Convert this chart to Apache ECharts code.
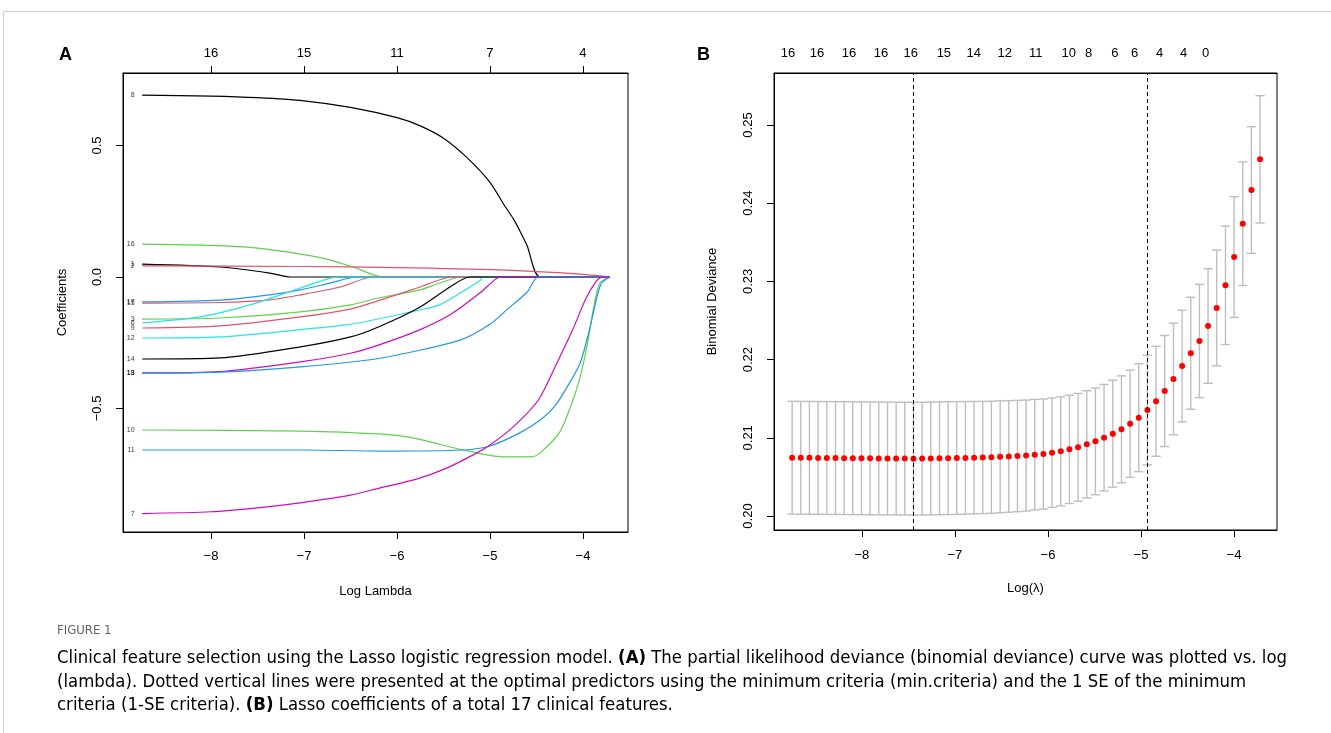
<!DOCTYPE html>
<html>
<head>
<meta charset="utf-8">
<script src="https://cdn.jsdelivr.net/npm/echarts@6.0.0/dist/echarts.min.js"></script>
<style>
  html, body { margin: 0; padding: 0; background: #fff; }
  #chart { width: 1331px; height: 733px; }
</style>
</head>
<body>
<div id="chart"></div>
<script>
// ---- panel A: lasso coefficient paths, [log lambda, coefficient] ----
const path8  = [[-8.74,0.692],[-8,0.688],[-7.5,0.682],[-7,0.670],[-6.5,0.645],[-6,0.606],[-5.75,0.575],[-5.5,0.528],[-5.25,0.455],[-5,0.36],[-4.85,0.275],[-4.75,0.222],[-4.68,0.176],[-4.6,0.118],[-4.46,0],[-3.71,0]];
const path16 = [[-8.74,0.125],[-8,0.12],[-7.5,0.11],[-7.1,0.091],[-6.8,0.072],[-6.47,0.038],[-6.15,0],[-3.71,0]];
const path1  = [[-8.74,0.049],[-7.9,0.038],[-7.37,0.015],[-7.15,0],[-3.71,0]];
const path2  = [[-8.74,0.042],[-7,0.04],[-6,0.036],[-4.9,0.027],[-4.03,0.011],[-3.71,0]];
const path17 = [[-8.74,-0.095],[-7.9,-0.088],[-7.37,-0.068],[-7.04,-0.049],[-6.72,-0.023],[-6.43,0],[-3.71,0]];
const path15 = [[-8.74,-0.099],[-7.9,-0.097],[-7.37,-0.087],[-7.04,-0.068],[-6.61,-0.038],[-6.26,0],[-3.71,0]];
const path3  = [[-8.74,-0.16],[-7.9,-0.156],[-7.04,-0.133],[-6.5,-0.106],[-6.2,-0.08],[-5.75,-0.049],[-5.54,-0.023],[-5.3,0],[-3.71,0]];
const path6  = [[-8.74,-0.175],[-8.12,-0.152],[-7.58,-0.106],[-7.04,-0.042],[-6.72,-0.004],[-6.61,0],[-3.71,0]];
const path9  = [[-8.74,-0.194],[-7.9,-0.186],[-7.04,-0.152],[-6.5,-0.122],[-6.2,-0.09],[-5.75,-0.038],[-5.41,0],[-3.71,0]];
const path12 = [[-8.74,-0.232],[-7.9,-0.228],[-7.04,-0.2],[-6.5,-0.18],[-6.15,-0.156],[-5.75,-0.125],[-5.54,-0.106],[-5.32,-0.061],[-5.1,-0.011],[-5.08,0],[-3.71,0]];
const path14 = [[-8.74,-0.312],[-7.9,-0.308],[-7.04,-0.266],[-6.5,-0.228],[-6.2,-0.19],[-5.75,-0.114],[-5.43,-0.038],[-5.22,0],[-3.71,0]];
const path13 = [[-8.74,-0.365],[-7.9,-0.36],[-7.04,-0.323],[-6.5,-0.29],[-6.2,-0.259],[-5.75,-0.2],[-5.43,-0.144],[-5.11,-0.061],[-4.95,-0.011],[-4.89,0],[-3.71,0]];
const path18 = [[-8.74,-0.366],[-7.9,-0.362],[-7.04,-0.342],[-6.2,-0.31],[-5.32,-0.24],[-5.0,-0.18],[-4.82,-0.125],[-4.6,-0.057],[-4.48,0],[-3.71,0]];
const path10 = [[-8.74,-0.582],[-7.04,-0.586],[-6.2,-0.597],[-5.83,-0.612],[-5.29,-0.658],[-4.86,-0.684],[-4.55,-0.684],[-4.46,-0.669],[-4.25,-0.59],[-4.12,-0.48],[-4.03,-0.38],[-3.95,-0.25],[-3.89,-0.125],[-3.82,-0.023],[-3.71,0]];
const path11 = [[-8.74,-0.658],[-7,-0.658],[-6.18,-0.662],[-5.29,-0.658],[-5.0,-0.643],[-4.68,-0.593],[-4.46,-0.544],[-4.3,-0.49],[-4.17,-0.418],[-4.03,-0.327],[-3.93,-0.2],[-3.85,-0.076],[-3.8,-0.023],[-3.71,0]];
const path7  = [[-8.74,-0.90],[-8,-0.893],[-7.5,-0.878],[-7,-0.857],[-6.5,-0.83],[-6.18,-0.802],[-5.8,-0.77],[-5.46,-0.726],[-5.14,-0.669],[-5.0,-0.639],[-4.75,-0.570],[-4.48,-0.468],[-4.28,-0.327],[-4.11,-0.2],[-3.96,-0.076],[-3.82,-0.004],[-3.71,0]];

const varNames  = ['8','16','1','2','17','15','3','6','9','12','14','13','18','10','11','7'];
const varPaths  = [path8,path16,path1,path2,path17,path15,path3,path6,path9,path12,path14,path13,path18,path10,path11,path7];
const varColors = ['#000000','#61D04F','#000000','#DF536B','#2297E6','#DF536B','#61D04F','#28E2E5','#DF536B','#28E2E5','#000000','#CD0BBC','#2297E6','#61D04F','#2297E6','#CD0BBC'];

const bottomTicksA = [-8, -7, -6, -5, -4];
const topLabelsA   = ['16', '15', '11', '7', '4'];
const yTicksA      = [-0.5, 0, 0.5];

// ---- panel B: cross-validated binomial deviance ----
const logLambdaB = [-8.750,-8.657,-8.564,-8.471,-8.377,-8.284,-8.191,-8.098,-8.005,-7.912,
  -7.819,-7.725,-7.632,-7.539,-7.446,-7.353,-7.260,-7.166,-7.073,-6.980,
  -6.887,-6.794,-6.701,-6.608,-6.514,-6.421,-6.328,-6.235,-6.142,-6.049,
  -5.956,-5.862,-5.769,-5.676,-5.583,-5.490,-5.397,-5.303,-5.210,-5.117,
  -5.024,-4.931,-4.838,-4.745,-4.651,-4.558,-4.465,-4.372,-4.279,-4.186,
  -4.092,-3.999,-3.906,-3.813,-3.720];
const cvMean = [0.20745,0.20744,0.20744,0.20743,0.20742,0.20741,0.20740,0.20739,0.20738,0.20737,
  0.20736,0.20735,0.20735,0.20734,0.20733,0.20734,0.20736,0.20738,0.20740,0.20742,
  0.20743,0.20746,0.20748,0.20751,0.20757,0.20762,0.20767,0.20773,0.20784,0.20793,
  0.20810,0.20827,0.20853,0.20878,0.20916,0.20955,0.21002,0.21053,0.21108,0.21180,
  0.21257,0.21355,0.21467,0.21598,0.21752,0.21918,0.22081,0.22238,0.22430,0.22660,
  0.22950,0.23312,0.23738,0.24169,0.24561];
const cvSe = [0.00721,0.00721,0.00721,0.00721,0.00721,0.00721,0.00721,0.00721,0.00721,0.00721,
  0.00721,0.00721,0.00721,0.00721,0.00721,0.00721,0.00721,0.00721,0.00721,0.00721,
  0.00720,0.00719,0.00718,0.00717,0.00716,0.00714,0.00712,0.00710,0.00707,0.00704,
  0.00700,0.00697,0.00693,0.00690,0.00686,0.00683,0.00680,0.00684,0.00684,0.00686,
  0.00690,0.00701,0.00703,0.00710,0.00714,0.00714,0.00716,0.00725,0.00733,0.00740,
  0.00757,0.00772,0.00790,0.00810,0.00814];
const lambdaMin = -7.446;
const lambda1se = -4.931;

const bottomTicksB = [-8, -7, -6, -5, -4];
const topPosB    = [-8.795,-8.483,-8.140,-7.796,-7.474,-7.119,-6.797,-6.464,-6.131,-5.777,-5.562,-5.282,-5.068,-4.799,-4.541,-4.305];
const topLabelsB = ['16','16','16','16','16','15','14','12','11','10','8','6','6','4','4','0'];
const yTicksB    = [0.20, 0.21, 0.22, 0.23, 0.24, 0.25];

const FONT = "'Liberation Sans', Arial, sans-serif";
const minus = v => String(v).replace('-', '\u2212');

function nearestLabel(v, pos, labels) {
  let best = 0;
  for (let i = 1; i < pos.length; i++) {
    if (Math.abs(pos[i] - v) < Math.abs(pos[best] - v)) best = i;
  }
  return labels[best];
}

// axis lines sit on the box edges, ticks point outwards as in base R
const boxLine = { show: true, onZero: false, lineStyle: { color: '#000', width: 1 } };
const tickStyle = { show: true, inside: false, length: 7, lineStyle: { color: '#000', width: 1 } };
const labelBase = { color: '#000', fontSize: 13, fontFamily: FONT };

const chart = echarts.init(document.getElementById('chart'));

const seriesA = varPaths.map((p, i) => ({
  name: 'V' + varNames[i],
  type: 'line',
  xAxisIndex: 0, yAxisIndex: 0,
  data: p,
  showSymbol: false,
  smooth: 0.25,
  lineStyle: { color: varColors[i], width: 1.2 },
  silent: true,
  z: 3
}));

const startLabels = {
  type: 'scatter',
  xAxisIndex: 0, yAxisIndex: 0,
  data: varPaths.map((p, i) => [p[0][0], p[0][1], varNames[i]]),
  symbolSize: 1,
  itemStyle: { color: 'rgba(0,0,0,0)' },
  label: {
    show: true, position: 'left', distance: 7,
    formatter: d => d.value[2],
    fontSize: 7, color: '#000', fontFamily: FONT
  },
  silent: true
};

const capW = 0.0503;
const errBars = {
  type: 'custom',
  xAxisIndex: 2, yAxisIndex: 1,
  data: logLambdaB.map((x, i) => [x, cvMean[i] - cvSe[i], cvMean[i] + cvSe[i]]),
  encode: { x: 0, y: [1, 2] },
  renderItem: function (params, api) {
    const x = api.value(0);
    const top = api.coord([x, api.value(2)]);
    const bot = api.coord([x, api.value(1)]);
    const half = api.coord([x + capW, api.value(2)])[0] - top[0];
    const st = { stroke: '#BEBEBE', lineWidth: 1.4 };
    return {
      type: 'group',
      children: [
        { type: 'line', shape: { x1: top[0], y1: top[1], x2: bot[0], y2: bot[1] }, style: st },
        { type: 'line', shape: { x1: top[0] - half, y1: top[1], x2: top[0] + half, y2: top[1] }, style: st },
        { type: 'line', shape: { x1: bot[0] - half, y1: bot[1], x2: bot[0] + half, y2: bot[1] }, style: st }
      ]
    };
  },
  silent: true,
  z: 2
};

const cvPoints = {
  type: 'scatter',
  xAxisIndex: 2, yAxisIndex: 1,
  data: logLambdaB.map((x, i) => [x, cvMean[i]]),
  symbolSize: 6,
  itemStyle: { color: '#FF0000', opacity: 1 },
  silent: true,
  z: 4,
  markLine: {
    silent: true,
    symbol: 'none',
    label: { show: false },
    lineStyle: { color: '#000', type: [4, 3], width: 1 },
    data: [{ xAxis: lambdaMin }, { xAxis: lambda1se }]
  }
};

const caption1 = '{n|Clinical feature selection using the Lasso logistic regression model. }{b|(A)}{n| The partial likelihood deviance (binomial deviance) curve was plotted vs. log}';
const caption2 = '{n|(lambda). Dotted vertical lines were presented at the optimal predictors using the minimum criteria (min.criteria) and the 1 SE of the minimum}';
const caption3 = '{n|criteria (1-SE criteria). }{b|(B)}{n| Lasso coefficients of a total 17 clinical features.}';
const capFont = "'Liberation Sans Narrow', 'DejaVu Sans Condensed', 'Open Sans', sans-serif";
const capRich = {
  n: { fontSize: 18.4, fontFamily: capFont, color: '#5a5a5a', fontWeight: 'normal' },
  b: { fontSize: 18.4, fontFamily: capFont, color: '#5a5a5a', fontWeight: 'bold' }
};

chart.setOption({
  animation: false,
  backgroundColor: '#fff',
  grid: [
    { left: 123, top: 73, width: 505, height: 459, show: true, borderColor: '#000', borderWidth: 1, backgroundColor: 'transparent' },
    { left: 774, top: 73, width: 503, height: 457, show: true, borderColor: '#000', borderWidth: 1, backgroundColor: 'transparent' }
  ],
  xAxis: [
    {
      type: 'value', gridIndex: 0, position: 'bottom', min: -8.946, max: -3.516,
      axisLine: boxLine, splitLine: { show: false },
      axisTick: Object.assign({ customValues: bottomTicksA }, tickStyle),
      axisLabel: Object.assign({ customValues: bottomTicksA, margin: 18, formatter: minus }, labelBase),
      name: 'Log Lambda', nameLocation: 'middle', nameGap: 53,
      nameTextStyle: { color: '#000', fontSize: 13, fontFamily: FONT }
    },
    {
      type: 'value', gridIndex: 0, position: 'top', min: -8.946, max: -3.516,
      axisLine: boxLine, splitLine: { show: false },
      axisTick: Object.assign({ customValues: bottomTicksA }, tickStyle),
      axisLabel: Object.assign({ customValues: bottomTicksA, margin: 13,
        formatter: v => nearestLabel(v, bottomTicksA, topLabelsA) }, labelBase)
    },
    {
      type: 'value', gridIndex: 1, position: 'bottom', min: -8.945, max: -3.538,
      axisLine: boxLine, splitLine: { show: false },
      axisTick: Object.assign({ customValues: bottomTicksB }, tickStyle),
      axisLabel: Object.assign({ customValues: bottomTicksB, margin: 19, formatter: minus }, labelBase),
      name: 'Log(\u03bb)', nameLocation: 'middle', nameGap: 52,
      nameTextStyle: { color: '#000', fontSize: 13, fontFamily: FONT }
    },
    {
      type: 'value', gridIndex: 1, position: 'top', min: -8.945, max: -3.538,
      axisLine: boxLine, splitLine: { show: false },
      axisTick: { show: false },
      axisLabel: Object.assign({ customValues: topPosB, margin: 13,
        formatter: v => nearestLabel(v, topPosB, topLabelsB) }, labelBase)
    }
  ],
  yAxis: [
    {
      type: 'value', gridIndex: 0, min: -0.97, max: 0.776,
      axisLine: boxLine, splitLine: { show: false },
      axisTick: Object.assign({ customValues: yTicksA }, tickStyle),
      axisLabel: Object.assign({ customValues: yTicksA, rotate: 90, margin: 19,
        formatter: v => minus(v.toFixed(1)) }, labelBase),
      name: 'Coefficients', nameLocation: 'middle', nameGap: 54,
      nameTextStyle: { color: '#000', fontSize: 13, fontFamily: FONT }
    },
    {
      type: 'value', gridIndex: 1, min: 0.19821, max: 0.25665,
      axisLine: boxLine, splitLine: { show: false },
      axisTick: Object.assign({ customValues: yTicksB }, tickStyle),
      axisLabel: Object.assign({ customValues: yTicksB, rotate: 90, margin: 19,
        formatter: v => v.toFixed(2) }, labelBase),
      name: 'Binomial Deviance', nameLocation: 'middle', nameGap: 55,
      nameTextStyle: { color: '#000', fontSize: 13, fontFamily: FONT }
    }
  ],
  series: seriesA.concat([startLabels, errBars, cvPoints]),
  graphic: [
    { type: 'polyline', silent: true, shape: { points: [[3.5, 733], [3.5, 11.5], [1331, 11.5]] },
      style: { stroke: '#cfcfcf', lineWidth: 1, fill: null } },
    { type: 'text', left: 59, top: 46, silent: true,
      style: { text: 'A', fontSize: 18, fontWeight: 'bold', fontFamily: FONT, fill: '#000' } },
    { type: 'text', left: 697, top: 46, silent: true,
      style: { text: 'B', fontSize: 18, fontWeight: 'bold', fontFamily: FONT, fill: '#000' } },
    { type: 'text', left: 57, top: 624, silent: true,
      style: { text: 'FIGURE 1', fontSize: 13, fontFamily: capFont, fill: '#666' } },
    { type: 'text', left: 57, top: 649, silent: true, style: { text: caption1, rich: capRich } },
    { type: 'text', left: 57, top: 673, silent: true, style: { text: caption2, rich: capRich } },
    { type: 'text', left: 57, top: 696, silent: true, style: { text: caption3, rich: capRich } }
  ]
});
</script>
</body>
</html>
